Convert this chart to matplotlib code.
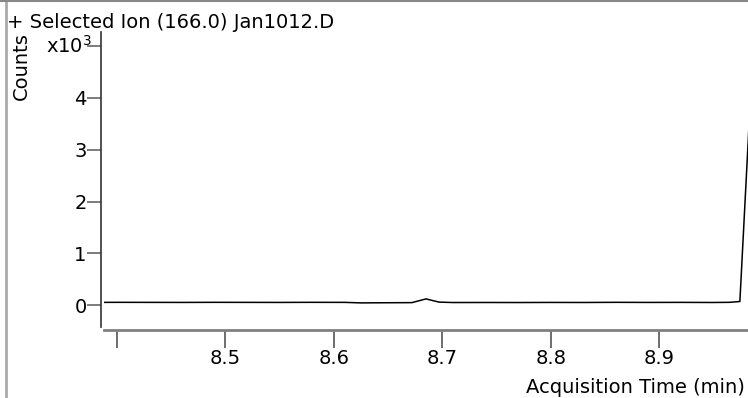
import numpy as np
import matplotlib
matplotlib.use("Agg")
import matplotlib.pyplot as plt
from matplotlib.lines import Line2D

# acquisition time (min) and counts (x10^3)
times = [8.388, 8.40, 8.43, 8.46, 8.49, 8.52, 8.55, 8.58, 8.61, 8.625, 8.65,
         8.672, 8.685, 8.697, 8.71, 8.74, 8.77, 8.80, 8.83, 8.86, 8.89,
         8.92, 8.95, 8.965, 8.9745, 8.983]
counts = [0.055, 0.056, 0.055, 0.054, 0.056, 0.055, 0.054, 0.056, 0.055, 0.045, 0.048,
          0.050, 0.122, 0.060, 0.052, 0.053, 0.052, 0.054, 0.053, 0.056, 0.054,
          0.055, 0.053, 0.056, 0.072, 3.50]

xticks = [8.4, 8.5, 8.6, 8.7, 8.8, 8.9]
xticklabels = ["", "8.5", "8.6", "8.7", "8.8", "8.9"]
yticks = [0, 1, 2, 3, 4, 5]
yticklabels = ["0", "1", "2", "3", "4", ""]

W, H = 748, 398
plt.rcParams["font.family"] = "DejaVu Sans"
plt.rcParams["font.size"] = 14

fig = plt.figure(figsize=(W / 100, H / 100), dpi=100)

def fx(px):
    return px / W

def fy(py):
    return 1 - py / H

ax = fig.add_axes([fx(104), fy(327), fx(W) - fx(104), fy(32) - fy(327)])
ax.plot(times, counts, color="black", lw=1.1, clip_on=True)
ax.set_xlim(8.388, 8.982)
ax.set_ylim(-0.42, 5.27)

for s in ["top", "right"]:
    ax.spines[s].set_visible(False)
ax.spines["left"].set_position(("outward", 2))
ax.spines["left"].set_color("#333333")
ax.spines["left"].set_linewidth(1.2)
ax.spines["bottom"].set_position(("outward", 2))
ax.spines["bottom"].set_color("#808080")
ax.spines["bottom"].set_linewidth(2)

ax.set_xticks(xticks)
ax.set_xticklabels(xticklabels)
ax.set_yticks(yticks)
ax.set_yticklabels(yticklabels)
ax.tick_params(axis="x", length=13, width=1.2, color="#555555", pad=1)
ax.tick_params(axis="y", length=10, width=1.2, color="#666666", pad=0.5)

# multiplier label at the top tick
ax.text(-0.018, 5, "x10$^3$", transform=ax.get_yaxis_transform(),
        ha="right", va="center", fontsize=14)

# frame edges of the report panel
fig.add_artist(Line2D([fx(5.5), fx(5.5)], [0, 1], color="#aaaaaa", lw=2))
fig.add_artist(Line2D([0, 1], [fy(0.8), fy(0.8)], color="#888888", lw=1.5))

fig.text(fx(7), fy(28), "+ Selected Ion (166.0) Jan1012.D", ha="left", va="baseline")
fig.text(fx(21), fy(66), "Counts", rotation=90, ha="center", va="center")
fig.text(fx(745), fy(393), "Acquisition Time (min)", ha="right", va="baseline")

fig.savefig("out.png", dpi=100)
